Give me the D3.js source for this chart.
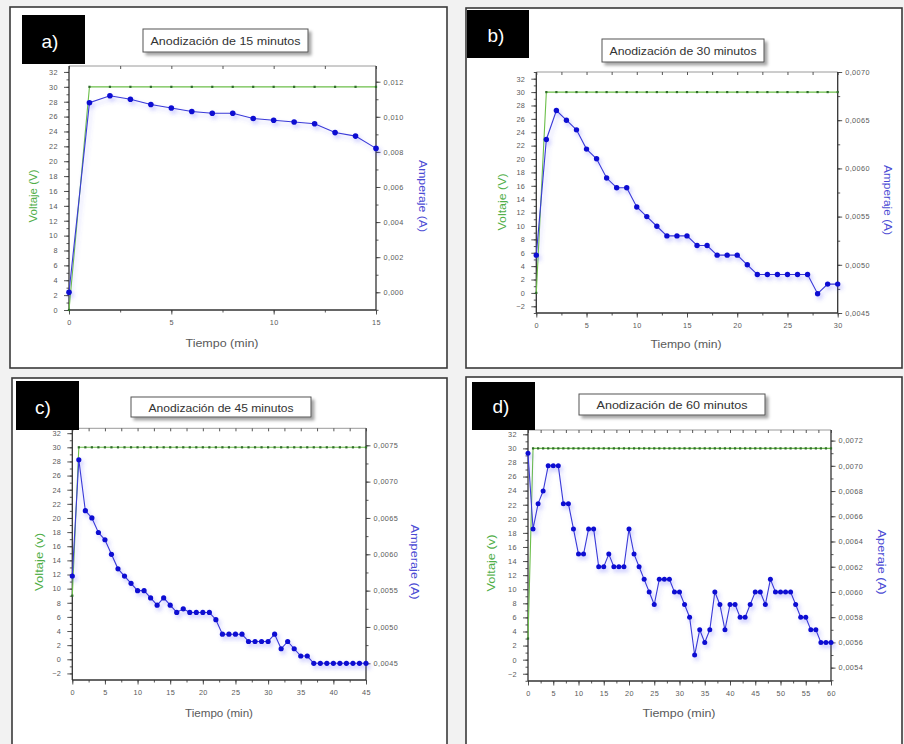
<!DOCTYPE html>
<html><head><meta charset="utf-8">
<script src="https://cdn.jsdelivr.net/npm/d3@7"></script>
<style>
html,body{margin:0;padding:0;background:#f2f2f2;}
svg{display:block;font-family:"Liberation Sans",Arial,sans-serif;}
</style></head><body>
<svg id="chart" width="904" height="744"></svg>
<script>
// ---------- DATA ----------
const tiempoA = [0,1,2,3,4,5,6,7,8,9,10,11,12,13,14,15];
const voltajeA = [0,30,30,30,30,30,30,30,30,30,30,30,30,30,30,30];
const amperajeA = [0.0000,0.0108,0.0112,0.0110,0.0107,0.0105,0.0103,0.0102,0.0102,0.0099,0.0098,0.0097,0.0096,0.0091,0.0089,0.0082];

const tiempoB = [0,1,2,3,4,5,6,7,8,9,10,11,12,13,14,15,16,17,18,19,20,21,22,23,24,25,26,27,28,29,30];
const voltajeB = [0,30,30,30,30,30,30,30,30,30,30,30,30,30,30,30,30,30,30,30,30,30,30,30,30,30,30,30,30,30,30];
const amperajeB = [0.0051,0.0063,0.0066,0.0065,0.0064,0.0062,0.0061,0.0059,0.0058,0.0058,0.0056,0.0055,0.0054,0.0053,0.0053,0.0053,0.0052,0.0052,0.0051,0.0051,0.0051,0.0050,0.0049,0.0049,0.0049,0.0049,0.0049,0.0049,0.0047,0.0048,0.0048];

const tiempoC = [0,1,2,3,4,5,6,7,8,9,10,11,12,13,14,15,16,17,18,19,20,21,22,23,24,25,26,27,28,29,30,31,32,33,34,35,36,37,38,39,40,41,42,43,44,45];
const voltajeC = [9,30,30,30,30,30,30,30,30,30,30,30,30,30,30,30,30,30,30,30,30,30,30,30,30,30,30,30,30,30,30,30,30,30,30,30,30,30,30,30,30,30,30,30,30,30];
const amperajeC = [0.0057,0.0073,0.0066,0.0065,0.0063,0.0062,0.0060,0.0058,0.0057,0.0056,0.0055,0.0055,0.0054,0.0053,0.0054,0.0053,0.0052,0.00525,0.0052,0.0052,0.0052,0.0052,0.0051,0.0049,0.0049,0.0049,0.0049,0.0048,0.0048,0.0048,0.0048,0.0049,0.0047,0.0048,0.0047,0.0046,0.0046,0.0045,0.0045,0.0045,0.0045,0.0045,0.0045,0.0045,0.0045,0.0045];

const tiempoD = [0,1,2,3,4,5,6,7,8,9,10,11,12,13,14,15,16,17,18,19,20,21,22,23,24,25,26,27,28,29,30,31,32,33,34,35,36,37,38,39,40,41,42,43,44,45,46,47,48,49,50,51,52,53,54,55,56,57,58,59,60];
const voltajeD = [3,30,30,30,30,30,30,30,30,30,30,30,30,30,30,30,30,30,30,30,30,30,30,30,30,30,30,30,30,30,30,30,30,30,30,30,30,30,30,30,30,30,30,30,30,30,30,30,30,30,30,30,30,30,30,30,30,30,30,30,30];
const amperajeD = [0.0071,0.0065,0.0067,0.0068,0.0070,0.0070,0.0070,0.0067,0.0067,0.0065,0.0063,0.0063,0.0065,0.0065,0.0062,0.0062,0.0063,0.0062,0.0062,0.0062,0.0065,0.0063,0.0062,0.0061,0.0060,0.0059,0.0061,0.0061,0.0061,0.0060,0.0060,0.0059,0.0058,0.0055,0.0057,0.0056,0.0057,0.0060,0.0059,0.0057,0.0059,0.0059,0.0058,0.0058,0.0059,0.0060,0.0060,0.0059,0.0061,0.0060,0.0060,0.0060,0.0060,0.0059,0.0058,0.0058,0.0057,0.0057,0.0056,0.0056,0.0056];

// tick labels
const voltTicksA = [0,2,4,6,8,10,12,14,16,18,20,22,24,26,28,30,32];
const voltTicksBCD = [-2,0,2,4,6,8,10,12,14,16,18,20,22,24,26,28,30,32];
const ampTicksA = [0.000,0.002,0.004,0.006,0.008,0.010,0.012];
const ampTicksB = [0.0045,0.0050,0.0055,0.0060,0.0065,0.0070];
const ampTicksC = [0.0045,0.0050,0.0055,0.0060,0.0065,0.0070,0.0075];
const ampTicksD = [0.0054,0.0056,0.0058,0.0060,0.0062,0.0064,0.0066,0.0068,0.0070,0.0072];
const timeTicksA = [0,5,10,15];
const timeTicksB = [0,5,10,15,20,25,30];
const timeTicksC = [0,5,10,15,20,25,30,35,40,45];
const timeTicksD = [0,5,10,15,20,25,30,35,40,45,50,55,60];

const titles = ["Anodización de 15 minutos","Anodización de 30 minutos","Anodización de 45 minutos","Anodización de 60 minutos"];
const tags = ["a)","b)","c)","d)"];
const voltLabels = ["Voltaje (V)","Voltaje (V)","Voltaje (v)","Voltaje (v)"];
const ampLabels = ["Amperaje (A)","Amperaje (A)","Amperaje (A)","Aperaje (A)"];
const timeLabel = "Tiempo (min)";

// ---------- LAYOUT ----------
const panels = [
  {t:tiempoA,v:voltajeA,i:amperajeA, frame:[10,7,437,361], tag:[22,15,63,49], tagC:[50,41],
   tbox:[143,29,165,23], tlen:150, px:[69,376], py:[66,310], xDom:[0,15], yL:[0,32.8], yR:[-0.00101,0.012895],
   lt:voltTicksA, rt:ampTicksA, rMinor:0.001, rDec:3, xt:timeTicksA,
   vPos:[33,196], vLen:53, aPos:[423,196], aLen:72, tPos:[222,343], tLen:73, r:2.8},
  {t:tiempoB,v:voltajeB,i:amperajeB, frame:[466,8,436,360], tag:[467,10,62,48], tagC:[496,35],
   tbox:[602,39,162,23], tlen:147, px:[536.3,837.7], py:[72,313], xDom:[0,30], yL:[-3,33], yR:[0.0045,0.0070],
   lt:voltTicksBCD, rt:ampTicksB, rMinor:0.00025, rDec:4, xt:timeTicksB,
   vPos:[502,202], vLen:57, aPos:[888,200], aLen:70, tPos:[686,344], tLen:71, r:2.7},
  {t:tiempoC,v:voltajeC,i:amperajeC, frame:[12,378,435,390], tag:[16,381,63,49], tagC:[43,407],
   tbox:[131,397,180,20], tlen:145, px:[72.3,366], py:[428.3,680], xDom:[0,45], yL:[-2.93,32.69], yR:[0.00427,0.007734],
   lt:voltTicksBCD, rt:ampTicksC, rMinor:0.00025, rDec:4, xt:timeTicksC,
   vPos:[39,562], vLen:58, aPos:[415,562], aLen:75, tPos:[219,713], tLen:68, r:2.6},
  {t:tiempoD,v:voltajeD,i:amperajeD, frame:[466,377,436,390], tag:[472,382,63,48], tagC:[501,406],
   tbox:[579,394,186,21], tlen:151, px:[528,831], py:[430,681], xDom:[0,60], yL:[-3.03,32.61], yR:[0.005294,0.007284],
   lt:voltTicksBCD, rt:ampTicksD, rMinor:0.0001, rDec:4, xt:timeTicksD,
   vPos:[491,563], vLen:57, aPos:[882,562], aLen:65, tPos:[679,713], tLen:73, r:2.5}
];

const svg = d3.select("#chart");
const defs = svg.append("defs");
const glow = defs.append("filter").attr("id","glow").attr("x","-20%").attr("y","-20%").attr("width","140%").attr("height","140%");
glow.append("feDropShadow").attr("dx",2).attr("dy",3).attr("stdDeviation",2)
  .attr("flood-color","#5a5aff").attr("flood-opacity",0.35);
const tsh = defs.append("filter").attr("id","tshadow").attr("x","-20%").attr("y","-50%").attr("width","140%").attr("height","200%");
tsh.append("feDropShadow").attr("dx",3).attr("dy",3).attr("stdDeviation",1.5)
  .attr("flood-color","#000").attr("flood-opacity",0.35);

const GREEN_LINE = "#6cbf4a", GREEN_MARK = "#2f6b2a", BLUE_LINE = "#3a3ad8", BLUE_PT = "#0b0bd2";
const TXT = "#5a5a5a";

panels.forEach((p, k) => {
  const g = svg.append("g");
  // panel frame
  g.append("rect").attr("x",p.frame[0]).attr("y",p.frame[1]).attr("width",p.frame[2]).attr("height",p.frame[3])
    .attr("fill","#fff").attr("stroke","#3a3a3a").attr("stroke-width",1.6);

  const x = d3.scaleLinear().domain(p.xDom).range(p.px);
  const yL = d3.scaleLinear().domain(p.yL).range([p.py[1], p.py[0]]);
  const yR = d3.scaleLinear().domain(p.yR).range([p.py[1], p.py[0]]);

  // plot frame top line
  g.append("line").attr("x1",p.px[0]).attr("x2",p.px[1]).attr("y1",p.py[0]).attr("y2",p.py[0])
    .attr("stroke","#9a9a9a").attr("stroke-width",1);

  const fmtR = v => d3.format("." + p.rDec + "f")(v).replace(".", ",");

  // left axis (major + minor)
  const lMinor = d3.range(Math.ceil(p.yL[0]), Math.floor(p.yL[1]) + 1, 1);
  g.append("g").attr("transform",`translate(${p.px[0]},0)`)
    .call(d3.axisLeft(yL).tickValues(lMinor).tickSize(2.5).tickFormat(""))
    .call(s => s.select(".domain").remove());
  g.append("g").attr("transform",`translate(${p.px[0]},0)`)
    .call(d3.axisLeft(yL).tickValues(p.lt).tickSize(5).tickPadding(6))
    .call(s => s.select(".domain").remove());
  g.append("line").attr("x1",p.px[0]).attr("x2",p.px[0]).attr("y1",p.py[0]).attr("y2",p.py[1])
    .attr("stroke","#333").attr("stroke-width",1.3);

  // right axis
  const rMinor = d3.range(Math.ceil(p.yR[0]/p.rMinor), Math.floor(p.yR[1]/p.rMinor) + 1).map(n => n * p.rMinor);
  g.append("g").attr("transform",`translate(${p.px[1]},0)`)
    .call(d3.axisRight(yR).tickValues(rMinor).tickSize(2.5).tickFormat(""))
    .call(s => s.select(".domain").remove());
  g.append("g").attr("transform",`translate(${p.px[1]},0)`)
    .call(d3.axisRight(yR).tickValues(p.rt).tickSize(4.5).tickPadding(3).tickFormat(fmtR))
    .call(s => s.select(".domain").remove());
  g.append("line").attr("x1",p.px[1]).attr("x2",p.px[1]).attr("y1",p.py[0]).attr("y2",p.py[1])
    .attr("stroke","#333").attr("stroke-width",1.3);

  // bottom axis
  const xMinor = d3.range(0, p.xDom[1] + 0.01, 2.5);
  g.append("g").attr("transform",`translate(0,${p.py[1]})`)
    .call(d3.axisBottom(x).tickValues(xMinor).tickSize(2.5).tickFormat(""))
    .call(s => s.select(".domain").remove());
  g.append("g").attr("transform",`translate(0,${p.py[1]})`)
    .call(d3.axisBottom(x).tickValues(p.xt).tickSize(4.5).tickPadding(5))
    .call(s => s.select(".domain").remove());
  g.append("line").attr("x1",p.px[0]).attr("x2",p.px[1]).attr("y1",p.py[1]).attr("y2",p.py[1])
    .attr("stroke","#333").attr("stroke-width",1.3);
  // top inward ticks
  g.append("g").attr("transform",`translate(0,${p.py[0]})`)
    .call(d3.axisBottom(x).tickValues(xMinor).tickSize(3).tickFormat(""))
    .call(s => s.select(".domain").remove());

  g.selectAll(".tick line").attr("stroke","#444").attr("stroke-width",0.9);
  g.selectAll(".tick text").attr("fill",TXT).style("font-size","7.3px").style("letter-spacing","0.4px")
    .style("font-family",'"Liberation Sans",Arial,sans-serif');

  // voltage series
  const lineV = d3.line().x((d,j) => x(p.t[j])).y(d => yL(d));
  g.append("path").datum(p.v).attr("d",lineV).attr("fill","none")
    .attr("stroke",GREEN_LINE).attr("stroke-width",1.1);
  g.append("g").selectAll("rect").data(p.v).join("rect")
    .attr("x",(d,j) => x(p.t[j]) - 1.1).attr("y",d => yL(d) - 1.1)
    .attr("width",2.2).attr("height",2.2).attr("fill",GREEN_MARK);

  // current series
  const gb = g.append("g").attr("filter","url(#glow)");
  const lineI = d3.line().x((d,j) => x(p.t[j])).y(d => yR(d));
  gb.append("path").datum(p.i).attr("d",lineI).attr("fill","none")
    .attr("stroke",BLUE_LINE).attr("stroke-width",1.1);
  gb.selectAll("circle").data(p.i).join("circle")
    .attr("cx",(d,j) => x(p.t[j])).attr("cy",d => yR(d)).attr("r",p.r).attr("fill",BLUE_PT);

  // axis titles
  g.append("text").attr("transform",`translate(${p.vPos[0]},${p.vPos[1]}) rotate(-90)`)
    .attr("text-anchor","middle").attr("dominant-baseline","central")
    .attr("textLength",p.vLen).attr("lengthAdjust","spacingAndGlyphs")
    .attr("fill","#4fae48").style("font-size","11px").text(voltLabels[k]);
  g.append("text").attr("transform",`translate(${p.aPos[0]},${p.aPos[1]}) rotate(90)`)
    .attr("text-anchor","middle").attr("dominant-baseline","central")
    .attr("textLength",p.aLen).attr("lengthAdjust","spacingAndGlyphs")
    .attr("fill","#4b4bd4").style("font-size","11.5px").text(ampLabels[k]);
  g.append("text").attr("x",p.tPos[0]).attr("y",p.tPos[1])
    .attr("text-anchor","middle").attr("dominant-baseline","central")
    .attr("textLength",p.tLen).attr("lengthAdjust","spacingAndGlyphs")
    .attr("fill",TXT).style("font-size","11.5px").text(timeLabel);

  // title box
  g.append("rect").attr("x",p.tbox[0]).attr("y",p.tbox[1]).attr("width",p.tbox[2]).attr("height",p.tbox[3])
    .attr("fill","#fff").attr("stroke","#555").attr("stroke-width",1).attr("filter","url(#tshadow)");
  g.append("text").attr("x",p.tbox[0] + p.tbox[2]/2).attr("y",p.tbox[1] + p.tbox[3]/2 + 0.5)
    .attr("text-anchor","middle").attr("dominant-baseline","central")
    .attr("textLength",p.tlen).attr("lengthAdjust","spacingAndGlyphs")
    .attr("fill","#333").style("font-size", k < 2 ? "10px" : "11.5px").text(titles[k]);

  // tag box
  g.append("rect").attr("x",p.tag[0]).attr("y",p.tag[1]).attr("width",p.tag[2]).attr("height",p.tag[3]).attr("fill","#000");
  g.append("text").attr("x",p.tagC[0]).attr("y",p.tagC[1]).attr("text-anchor","middle").attr("dominant-baseline","central")
    .attr("fill","#fff").style("font-size","19px").text(tags[k]);
});
</script>
</body></html>
